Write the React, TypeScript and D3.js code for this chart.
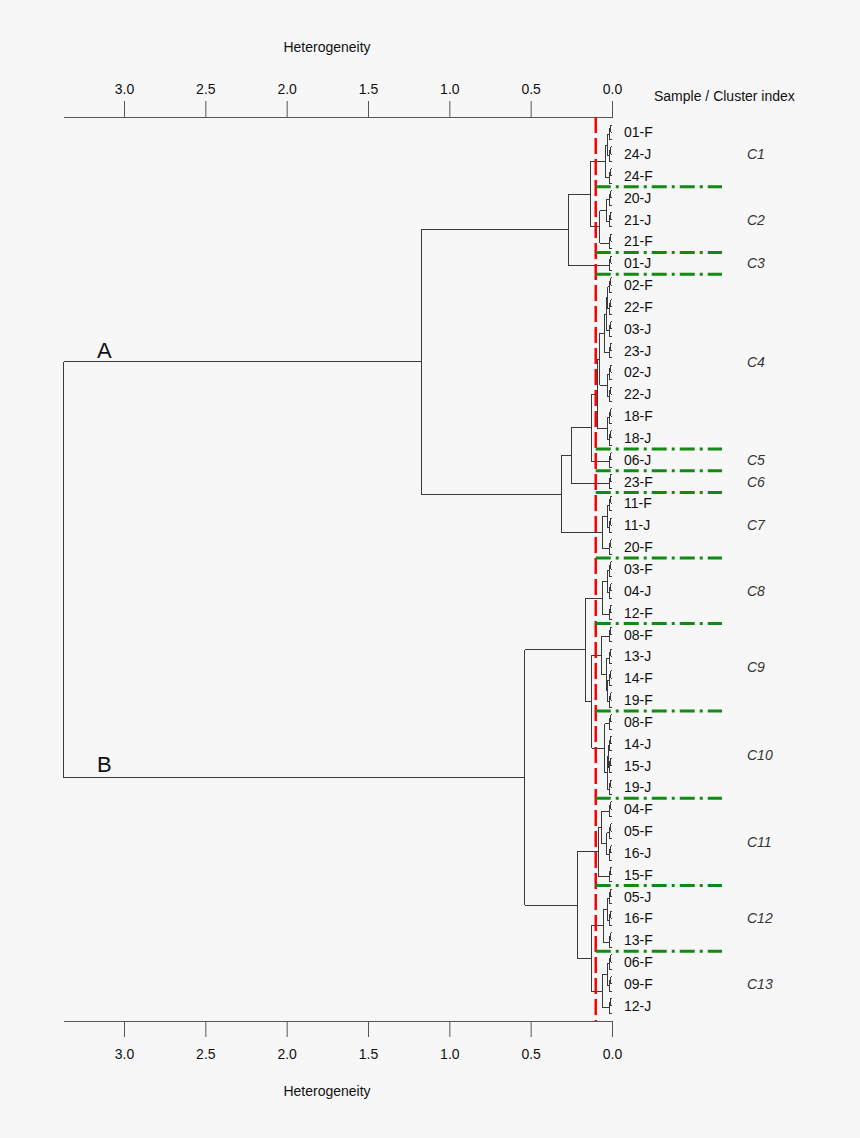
import { useEffect, useRef } from 'react'
import * as d3 from 'd3'

type Tree = string | [Tree, Tree, number]

// sub-trees per cluster, merge heights
const C1: Tree = [['01-F', '24-J', 0.03], '24-F', 0.043]
const C2: Tree = [['20-J', '21-J', 0.035], '21-F', 0.074]
const C3: Tree = '01-J'
const C4: Tree = [
    [[[['02-F', '22-F', 0.025], '03-J', 0.035], '23-J', 0.047], ['02-J', '22-J', 0.03], 0.074],
    ['18-F', '18-J', 0.03],
    0.087
]
const C5: Tree = '06-J'
const C6: Tree = '23-F'
const C7: Tree = [['11-F', '11-J', 0.03], '20-F', 0.06]
const C8: Tree = [['03-F', '04-J', 0.03], '12-F', 0.06]
const C9: Tree = ['08-F', ['13-J', ['14-F', '19-F', 0.025], 0.035], 0.063]
const C10: Tree = ['08-F', [['14-J', '15-J', 0.022], '19-J', 0.03], 0.045]
const C11: Tree = [['04-F', ['05-F', '16-J', 0.033], 0.063], '15-F', 0.084]
const C12: Tree = [['05-J', '16-F', 0.03], '13-F', 0.053]
const C13: Tree = [['06-F', '09-F', 0.03], '12-J', 0.06]

const groupA: Tree = [[[C1, C2, 0.135], C3, 0.27], [[[C4, C5, 0.123], C6, 0.252], C7, 0.313], 1.174]
const groupB: Tree = [[C8, [C9, C10, 0.123], 0.16], [C11, [C12, C13, 0.129], 0.215], 0.535]
const rootHeight = 3.37

const clusterNames = ['C1', 'C2', 'C3', 'C4', 'C5', 'C6', 'C7', 'C8', 'C9', 'C10', 'C11', 'C12', 'C13']
const clusterSizes = [3, 3, 1, 8, 1, 1, 3, 3, 4, 4, 4, 3, 3]
// each sample is a triplicate: pair merge, then third replicate
const replicateHeights = [0.008, 0.018]
const cutHeight = 0.1
const tickValues = [0, 0.5, 1, 1.5, 2, 2.5, 3]

const FONT = '"Liberation Sans", Arial, Helvetica, sans-serif'

interface DNode { height: number; label?: string; children?: DNode[] }

function toNode(t: Tree): DNode {
    if (typeof t === 'string') {
        const leaf = () => ({ height: 0 })
        return {
            height: replicateHeights[1],
            label: t,
            children: [{ height: replicateHeights[0], children: [leaf(), leaf()] }, leaf()]
        }
    }
    return { height: t[2], children: [toNode(t[0]), toNode(t[1])] }
}

export default function App() {
    const svgRef = useRef<SVGSVGElement>(null)
    const width = 860
    const height = 1138

    useEffect(() => {
        const svg = d3.select(svgRef.current)
        svg.selectAll('*').remove()

        const axisTopY = 117
        const axisBottomY = 1021

        const x = d3.scaleLinear().domain([0, 3]).range([612, 124])

        const root: any = d3.hierarchy(toNode([groupA, groupB, rootHeight]))
        const leaves = root.leaves()
        const y = d3.scalePoint<number>()
            .domain(d3.range(leaves.length))
            .range([125, 1013])
        leaves.forEach((l: any, i: number) => { l.y = y(i) })
        root.eachAfter((n: any) => {
            if (n.children) n.y = (n.children[0].y + n.children[1].y) / 2
        })

        svg.append('rect')
            .attr('width', width)
            .attr('height', height)
            .attr('fill', '#f7f7f7')

        // dendrogram
        const links = svg.append('g')
            .attr('fill', 'none')
            .attr('stroke', '#3a3a3a')
            .attr('stroke-width', 1)
            .attr('shape-rendering', 'crispEdges')
        root.descendants().filter((n: any) => n.children).forEach((n: any) => {
            const px = x(n.data.height)
            const [a, b] = n.children
            const p = d3.path()
            p.moveTo(px, a.y)
            p.lineTo(px, b.y)
            n.children.forEach((c: any) => {
                p.moveTo(px, c.y)
                p.lineTo(x(c.data.height), c.y)
            })
            links.append('path').attr('d', p.toString())
        })

        // axes
        const fmt = d3.format('.1f')
        const styleAxis = (g: any) => {
            g.attr('font-size', 14).attr('font-family', FONT)
            g.select('.domain').remove()
            g.selectAll('.tick line').attr('stroke', '#555')
            g.selectAll('.tick text').attr('fill', '#111')
        }
        svg.append('g')
            .attr('transform', `translate(0,${axisTopY})`)
            .call(d3.axisTop(x).tickValues(tickValues).tickFormat(fmt as any).tickSize(16).tickPadding(7))
            .call(styleAxis)
        svg.append('g')
            .attr('transform', `translate(0,${axisBottomY})`)
            .call(d3.axisBottom(x).tickValues(tickValues).tickFormat(fmt as any).tickSize(16).tickPadding(12))
            .call(styleAxis)
        ;[axisTopY, axisBottomY].forEach(ay => {
            svg.append('line')
                .attr('x1', x(rootHeight)).attr('x2', x(0) + 1)
                .attr('y1', ay).attr('y2', ay)
                .attr('stroke', '#555')
                .attr('shape-rendering', 'crispEdges')
        })

        const txt = (s: string, tx: number, ty: number, size: number, anchor = 'middle') =>
            svg.append('text')
                .attr('x', tx).attr('y', ty)
                .attr('font-size', size)
                .attr('font-family', FONT)
                .attr('text-anchor', anchor)
                .attr('fill', '#111')
                .text(s)

        txt('Heterogeneity', 327, 52, 14)
        txt('Heterogeneity', 327, 1096, 14)
        txt('Sample / Cluster index', 654, 101, 14, 'start')
        txt('A', 97, 358, 22, 'start')
        txt('B', 97, 772, 22, 'start')

        // cut line
        svg.append('line')
            .attr('x1', x(cutHeight)).attr('x2', x(cutHeight))
            .attr('y1', axisTopY).attr('y2', axisBottomY)
            .attr('stroke', '#ff0000')
            .attr('stroke-width', 2.5)
            .attr('stroke-dasharray', '16,5')

        // sample labels
        const labelNodes = root.descendants()
            .filter((n: any) => n.data.label)
            .map((n: any) => ({ label: n.data.label, y: n.leaves()[1].y, top: n.leaves()[0].y, bottom: n.leaves()[2].y }))
            .sort((a: any, b: any) => a.y - b.y)
        labelNodes.forEach((d: any) => {
            txt(d.label, 624, d.y, 14, 'start').attr('dominant-baseline', 'central')
        })

        // clusters and separators
        let idx = 0
        clusterSizes.forEach((size, i) => {
            const first = labelNodes[idx]
            const last = labelNodes[idx + size - 1]
            txt(clusterNames[i], 747, (first.y + last.y) / 2, 14, 'start')
                .attr('dominant-baseline', 'central')
                .attr('font-style', 'italic')
                .attr('fill', '#333')
            idx += size
            if (idx < labelNodes.length) {
                const sy = (last.bottom + labelNodes[idx].top) / 2
                svg.append('line')
                    .attr('x1', x(cutHeight)).attr('x2', 722)
                    .attr('y1', sy).attr('y2', sy)
                    .attr('stroke', '#138a13')
                    .attr('stroke-width', 3)
                    .attr('stroke-dasharray', '15,5,3,5')
            }
        })
    }, [])

    return (
        <svg
            ref={svgRef}
            width={width}
            height={height}
            style={{ position: 'absolute', left: 0, top: 0, display: 'block' }}
        />
    )
}
